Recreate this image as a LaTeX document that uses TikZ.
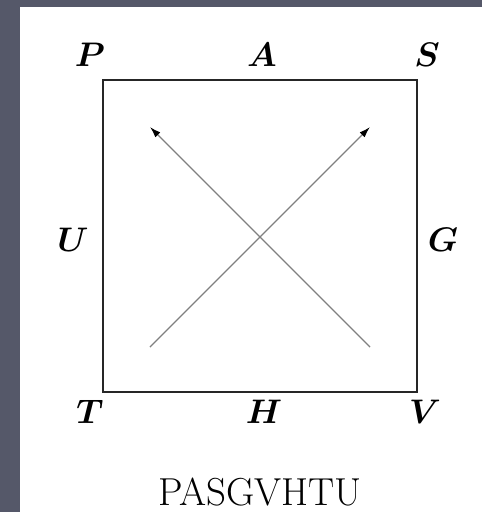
\documentclass[tikz,border=0pt]{standalone}
\usepackage{amsmath,bm,graphicx}
\usetikzlibrary{arrows.meta}
\definecolor{bgslate}{HTML}{555869}
\newcommand{\biglbl}[1]{\scalebox{1.37}{\fontsize{24.88}{30}\selectfont$\bm{#1}$}}
\begin{document}
\begin{tikzpicture}[x=1pt,y=-1pt,
  lbl/.style={inner sep=0pt},
  captext/.style={font=\fontsize{39}{44}\selectfont, inner sep=0pt},
  diag/.style={draw=black!50, line width=1.4pt, -{Latex[length=11pt,width=7pt,black]}}]
\useasboundingbox (0,0) rectangle (482,512);
\fill[bgslate] (0,0) rectangle (482,512);
\fill[white] (20,7) rectangle (482,512);
\draw[line width=2pt, black!85] (103,80) rectangle (417,392);
\node[lbl] (P) at (90,55) {\biglbl{P}};
\node[lbl] (A) at (262,55) {\biglbl{A}};
\node[lbl] (S) at (427,55) {\biglbl{S}};
\node[lbl] (U) at (73,240) {\biglbl{U}};
\node[lbl] (G) at (443,240) {\biglbl{G}};
\node[lbl] (T) at (90,412) {\biglbl{T}};
\node[lbl] (H) at (264,412) {\biglbl{H}};
\node[lbl] (V) at (425,412) {\biglbl{V}};
\node[captext] (w) at (260,492) {PASGVHTU};
\coordinate (a1) at (150,347);
\coordinate (a2) at (370,127);
\coordinate (b1) at (370,347);
\coordinate (b2) at (150,127);
\draw[diag] (a1) -- (a2);
\draw[diag] (b1) -- (b2);
\end{tikzpicture}
\end{document}
